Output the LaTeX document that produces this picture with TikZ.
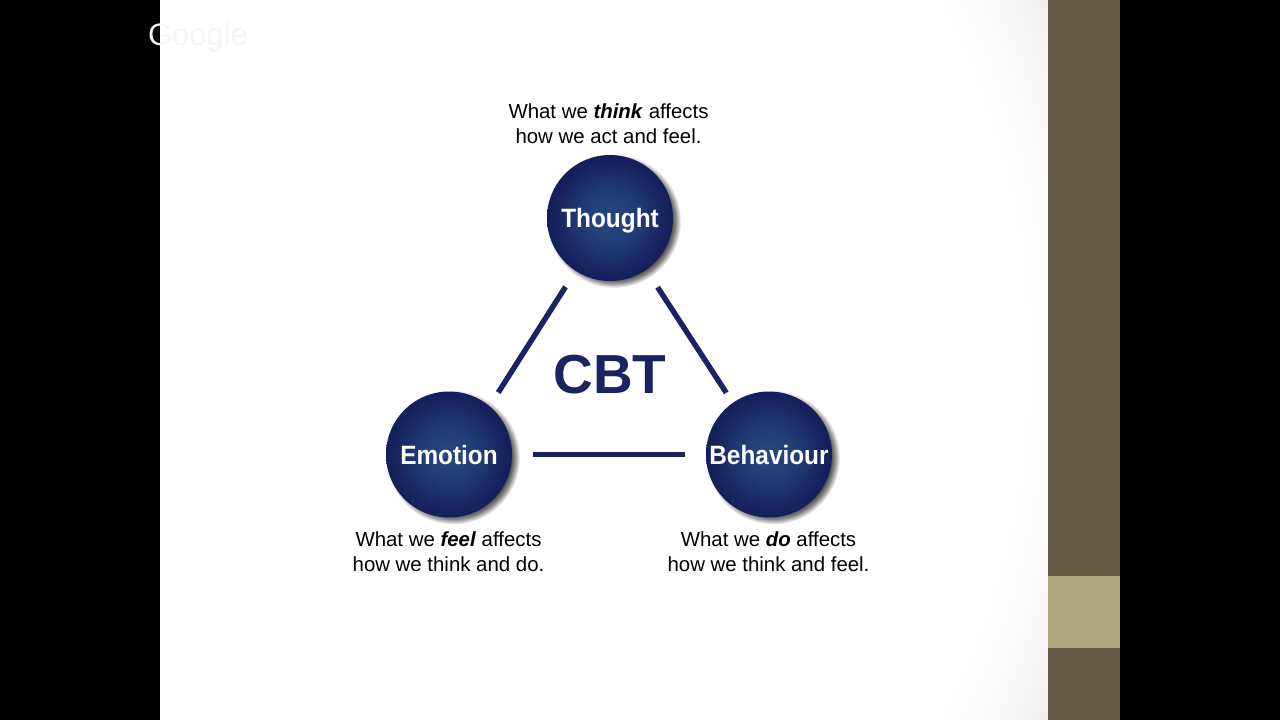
\documentclass[tikz,border=0pt]{standalone}
\usepackage{fontspec}
\setmainfont{Liberation Sans}
\newfontfamily\ballfont[FakeStretch=0.92]{Liberation Sans}
\usetikzlibrary{shadings}
\definecolor{navy}{HTML}{1A2463}
\definecolor{panel}{HTML}{655C45}
\definecolor{panellight}{HTML}{ABA67B}
\definecolor{ba}{HTML}{28477F}
\definecolor{bb}{HTML}{213A75}
\definecolor{bc}{HTML}{18255F}
\definecolor{bd}{HTML}{141E5C}
\definecolor{sa}{HTML}{383838}
\definecolor{sb}{HTML}{8A8A8A}
\definecolor{va}{HTML}{FAFAFA}
\definecolor{vb}{HTML}{E8E8E8}
\pgfdeclareradialshading{ballshade}{\pgfpoint{0bp}{0bp}}{
  color(0bp)=(ba);
  color(12bp)=(bb);
  color(21bp)=(bc);
  color(25bp)=(bd);
  color(50bp)=(bd)}
\pgfdeclareradialshading{ballshadow}{\pgfpoint{0bp}{0bp}}{
  color(0bp)=(sa);
  color(21bp)=(sa);
  color(23bp)=(sb);
  color(25bp)=(white);
  color(50bp)=(white)}
\pgfdeclareradialshading{vignette}{\pgfpoint{0bp}{0bp}}{
  color(0bp)=(white);
  color(21.4bp)=(white);
  color(22.7bp)=(va);
  color(24.9bp)=(vb);
  color(50bp)=(vb)}
\tikzset{
  ball/.style={circle,minimum size=126pt,inner sep=0pt,outer sep=0pt,shading=ballshade,
    text=white,text height=24pt,text depth=5pt,font=\ballfont\bfseries\fontsize{26.5}{30}\selectfont},
  caption/.style={align=center,text=black,inner sep=0pt,
    font=\fontsize{20.4}{25}\selectfont},
  link/.style={draw=navy,line width=5.4pt}
}
\begin{document}
\begin{tikzpicture}[x=1pt,y=-1pt]
\useasboundingbox (0,0) rectangle (1280,720);
\fill[black] (0,0) rectangle (1280,720);
\begin{scope}
  \clip (160,0) rectangle (1048,720);
  \fill[white] (160,0) rectangle (1048,720);
  \shade[shading=vignette] (255,360) circle[radius=900];
\end{scope}
\fill[panel] (1048,0) rectangle (1120,720);
\fill[panellight] (1048,576) rectangle (1120,648);
\node[text=white!96!black,font=\fontsize{31}{31}\selectfont,inner sep=0pt] (google) at (198,37) {Google};
\foreach \cx/\cy in {610/218,449/454.5,769/454.5}
  \shade[shading=ballshadow] (\cx+4,\cy+3) circle[radius=67];
\node[ball] (thought) at (610,218) {Thought};
\node[ball] (emotion) at (449,454.5) {Emotion};
\node[ball] (behaviour) at (769,454.5) {Behaviour};
\draw[link,shorten <=19pt,shorten >=16.3pt] (thought.237.5) -- (emotion.50.9);
\draw[link,shorten <=21pt,shorten >=12pt] (thought.-55.2) -- (behaviour.125);
\draw[link,shorten <=21pt,shorten >=21pt] (emotion) -- (behaviour);
\node[text=navy,font=\bfseries\fontsize{55}{55}\selectfont,inner sep=0pt] (cbt) at (610,375) {CBT};
\node[caption] (capthought) at (608.5,123.5) {What we \textbf{\textit{think}} affects\\how we act and feel.};
\node[caption] (capemotion) at (448.5,552) {What we \textbf{\textit{feel}} affects\\how we think and do.};
\node[caption] (capbehaviour) at (768.5,552) {What we \textbf{\textit{do}} affects\\how we think and feel.};
\end{tikzpicture}
\end{document}
